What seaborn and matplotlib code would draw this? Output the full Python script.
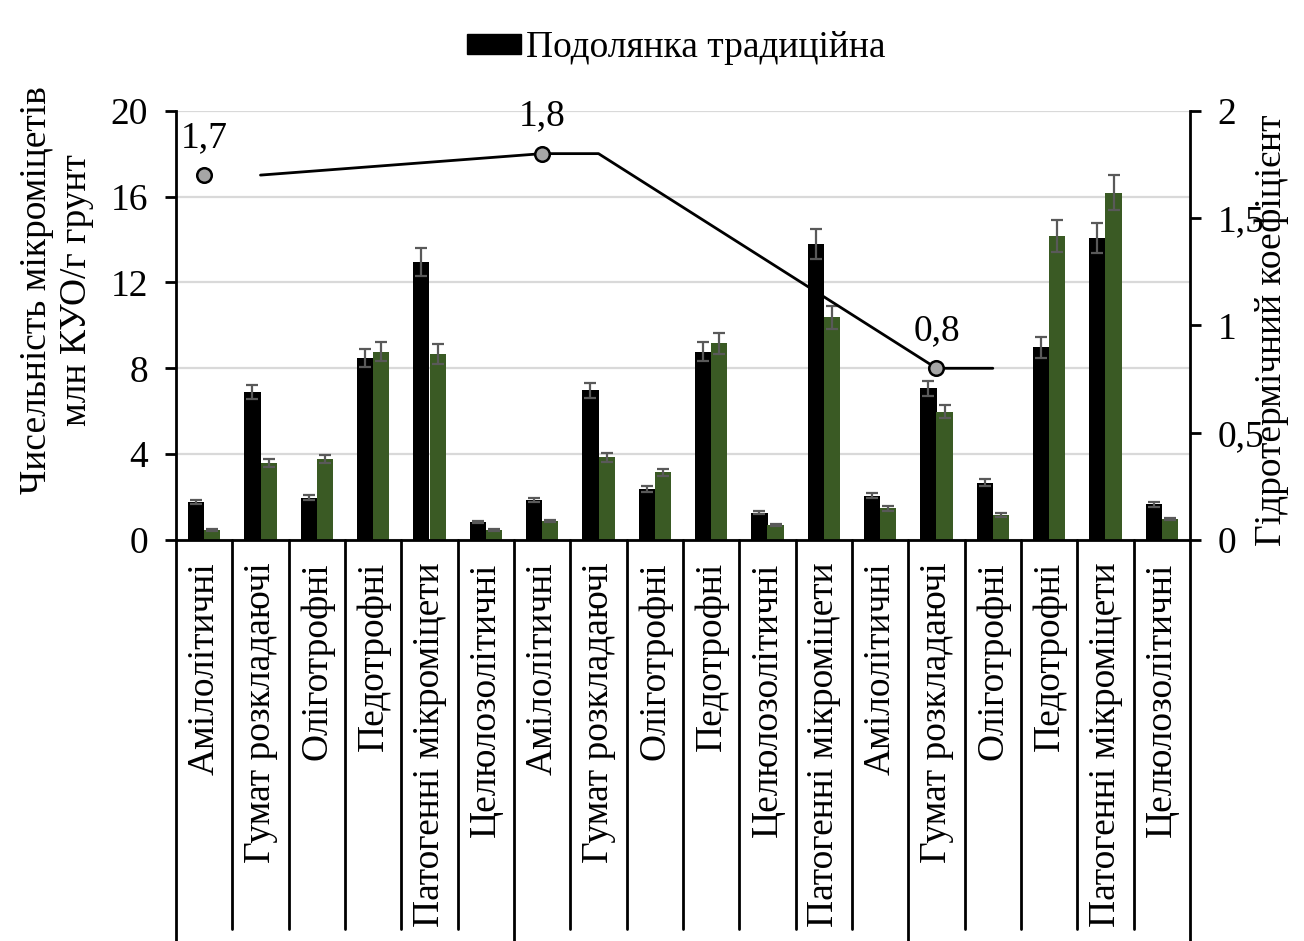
import numpy as np
import pandas as pd
import matplotlib
matplotlib.use("Agg")
import matplotlib.pyplot as plt
from matplotlib.patches import Patch
import seaborn as sns

# Groups of soil micromycetes (three blocks along the category axis)
categories = [
    "Амілолітичні", "Гумат розкладаючі", "Оліготрофні", "Педотрофні",
    "Патогенні мікроміцети", "Целюлозолітичні",
    "Амілолітичні", "Гумат розкладаючі", "Оліготрофні", "Педотрофні",
    "Целюлозолітичні", "Патогенні мікроміцети",
    "Амілолітичні", "Гумат розкладаючі", "Оліготрофні", "Педотрофні",
    "Патогенні мікроміцети", "Целюлозолітичні",
]
# block boundaries on the category axis (index of first category in a block)
block_starts = [0, 6, 13, 18]

# Counts, mln CFU/g soil
podolianka = [1.76, 6.88, 1.97, 8.49, 12.96, 0.85,
              1.86, 6.97, 2.38, 8.77, 1.27, 13.77,
              2.07, 7.06, 2.67, 8.97, 14.08, 1.66]
podolianka_err = [0.10, 0.33, 0.12, 0.43, 0.66, 0.05,
                  0.10, 0.36, 0.13, 0.45, 0.06, 0.70,
                  0.13, 0.37, 0.15, 0.47, 0.71, 0.11]
series2 = [0.47, 3.57, 3.77, 8.77, 8.68, 0.47,
           0.88, 3.85, 3.15, 9.16, 0.70, 10.37,
           1.47, 5.98, 1.16, 14.17, 16.18, 0.96]
series2_err = [0.05, 0.19, 0.19, 0.45, 0.46, 0.05,
               0.05, 0.20, 0.17, 0.48, 0.04, 0.53,
               0.10, 0.31, 0.08, 0.74, 0.82, 0.05]

# Hydrothermal coefficient
htc_line_pos = [1, 6, 7, 13, 14]
htc_line_vals = [1.7, 1.8, 1.8, 0.8, 0.8]
htc_point_pos = [0, 6, 13]
htc_point_vals = [1.7, 1.8, 0.8]

left_ticks = [0, 4, 8, 12, 16, 20]
right_ticks = [0, 0.5, 1, 1.5, 2]
right_ticklabels = ["0", "0,5", "1", "1,5", "2"]

legend_label = "Подолянка традиційна"
ylabel_left = "Чисельність мікроміцетів\nмлн КУО/г грунт"
ylabel_right = "Гідротермічний коефіцієнт"

BLACK = "#000000"
GREEN = "#3A5A24"
ERR = "#595959"

sns.set_theme(style="white")
plt.rcParams["font.family"] = ["Liberation Serif", "DejaVu Serif"]
plt.rcParams["text.color"] = "black"
plt.rcParams["axes.labelcolor"] = "black"
FS = 27

W, H = 1304, 941
fig = plt.figure(figsize=(W / 100, H / 100), dpi=100)
ax = fig.add_axes([176 / W, 1 - 540 / H, (1190 - 176) / W, (540 - 110.7) / H])

n = len(categories)
df = pd.DataFrame({
    "pos": list(range(n)) * 2,
    "value": podolianka + series2,
    "series": [legend_label] * n + ["Серія 2"] * n,
})
sns.barplot(data=df, x="pos", y="value", hue="series",
            palette=[BLACK, GREEN], width=0.57, gap=0,
            errorbar=None, legend=False, ax=ax, saturation=1,
            linewidth=0)

for cont, errs in zip(ax.containers, [podolianka_err, series2_err]):
    xs = [b.get_x() + b.get_width() / 2 for b in cont]
    hs = [b.get_height() for b in cont]
    ax.errorbar(xs, hs, yerr=errs, fmt="none", ecolor=ERR,
                elinewidth=1.6, capsize=4.6, capthick=1.6, zorder=3)

ax.set_xlim(-0.5, n - 0.5)
ax.set_ylim(0, 20)
ax.set_yticks(left_ticks)
ax.set_yticklabels([str(t) for t in left_ticks])
ax.yaxis.grid(True, color="#D9D9D9", linewidth=1.6)
ax.set_axisbelow(True)
ax.set_xlabel("")
ax.set_ylabel("")

ax.set_xticks(range(n))
ax.set_xticklabels(categories, rotation=90, va="top", ha="center")
ax.tick_params(axis="x", length=0, pad=16, labelsize=FS, colors="black")
ax.tick_params(axis="y", direction="out", length=8, width=2,
               pad=12, labelsize=FS, colors="black", left=True)

for side in ["top", "right"]:
    ax.spines[side].set_visible(False)
for side in ["left", "bottom"]:
    ax.spines[side].set_color("black")
    ax.spines[side].set_linewidth(2)

# category separators below the axis
trans = ax.get_xaxis_transform()
for b in range(n + 1):
    x = b - 0.5
    bottom = -1.05 if b in block_starts else -0.905
    ax.plot([x, x], [0, bottom], transform=trans, color="black",
            linewidth=2, clip_on=False, zorder=5)

# secondary axis: hydrothermal coefficient
ax2 = ax.twinx()
ax2.set_ylim(0, 2)
ax2.set_yticks(right_ticks)
ax2.set_yticklabels(right_ticklabels)
ax2.tick_params(axis="y", direction="out", length=8, width=2,
                pad=12, labelsize=FS, colors="black", right=True)
for side in ["top", "left", "bottom"]:
    ax2.spines[side].set_visible(False)
ax2.spines["right"].set_color("black")
ax2.spines["right"].set_linewidth(2)
ax2.grid(False)

sns.lineplot(x=htc_line_pos, y=htc_line_vals, color="black",
             linewidth=2, ax=ax2, zorder=4)
sns.scatterplot(x=htc_point_pos, y=htc_point_vals, color="#A6A6A6",
                edgecolor="black", linewidth=1.8, s=110, ax=ax2, zorder=6)
for xp, yv in zip(htc_point_pos, htc_point_vals):
    ax2.annotate(f"{yv:.1f}".replace(".", ","), (xp, yv),
                 xytext=(0, 27), textcoords="offset points",
                 ha="center", va="center", fontsize=FS, color="black")
ax2.set_xlim(-0.5, n - 0.5)
ax2.set_ylabel("")

fig.legend(handles=[Patch(facecolor=BLACK, edgecolor=BLACK)],
           labels=[legend_label], loc="center",
           bbox_to_anchor=(676 / W, 1 - 48 / H), frameon=False,
           fontsize=FS, handlelength=1.45, handleheight=0.45,
           handletextpad=0.12)

fig.text(57 / W, 1 - 290 / H, ylabel_left, rotation=90, ha="center",
         va="center", fontsize=FS, multialignment="center",
         linespacing=1.2)
fig.text(1272 / W, 1 - 330 / H, ylabel_right, rotation=90, ha="center",
         va="center", fontsize=FS)

fig.savefig("out.png", dpi=100)
